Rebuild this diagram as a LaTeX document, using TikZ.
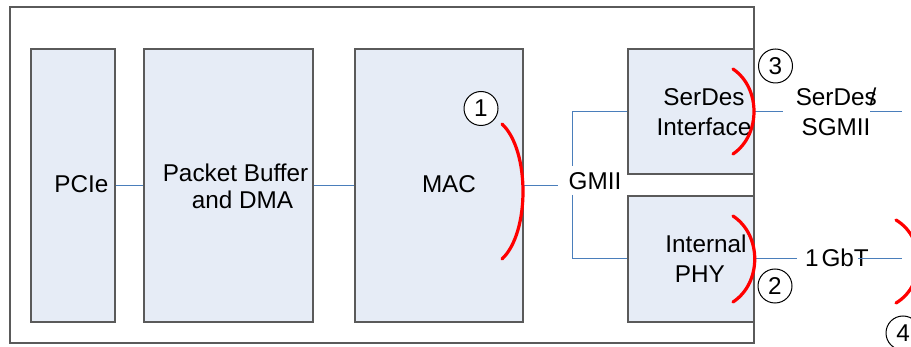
\documentclass[tikz,border=0pt]{standalone}
\usepackage{fontspec}
\setmainfont{Liberation Sans}
\definecolor{boxfill}{HTML}{E6ECF6}
\definecolor{boxline}{HTML}{5A5A5A}
\definecolor{wirecol}{HTML}{4A7EBB}
\begin{document}
\begin{tikzpicture}[x=0.5pt,y=-0.5pt,
  blk/.style={draw=boxline, fill=boxfill, line width=0.6pt, inner sep=0pt},
  chipbox/.style={draw=boxline, fill=white, line width=0.6pt, inner sep=0pt},
  lbl/.style={font=\fontsize{12.15pt}{15pt}\selectfont, inner sep=0pt},
  wire/.style={draw=wirecol, line width=0.5pt},
  hl/.style={draw=red, line width=1.6pt, line cap=round},
  num/.style={circle, draw=black, fill=white, line width=0.5pt, minimum size=17pt, inner sep=0pt, font=\fontsize{12.15pt}{14pt}\selectfont}]
\useasboundingbox (0,0) rectangle (911,347);
\clip (0,0) rectangle (911,347);
\fill[white] (0,0) rectangle (911,347);

% chip outline
\node[chipbox, minimum width=372pt, minimum height=168pt] (chip) at (382,175) {};

% blocks
\node[blk, minimum width=42pt, minimum height=136.5pt] (pcie) at (73,185.5) {};
\node[blk, minimum width=84.5pt, minimum height=136.5pt] (pb) at (228.5,185.5) {};
\node[blk, minimum width=84pt, minimum height=136.5pt] (mac) at (439,185.5) {};
\node[blk, minimum width=63pt, minimum height=62.5pt] (serdes) at (691,111.5) {};
\node[blk, minimum width=63pt, minimum height=63pt] (phy) at (691,259) {};

% labels
\node[lbl] (pcielbl) at (81.5,184) {PCIe};
\node[lbl, align=left] (pblbl) at (235.5,186) {Packet Buffer\\[-1.5pt]\hspace*{14.5pt}and DMA};
\node[lbl] (maclbl) at (449,184) {MAC};
\node[lbl] (gmii) at (595,181) {GMII};
\node[lbl, align=center] (serdeslbl) at (704,112) {SerDes\\Interface};
\node[lbl, align=left] (phylbl) at (706,258.5) {Internal\\\hspace*{4.7pt}PHY};
\node[lbl, align=center] (sgmii) at (836,112) {SerDes\kern-0.3em/\\SGMII};
\node[lbl] (gbt) at (837,258) {1\kern0.12em GbT};

% connectors
\coordinate (gt) at (572,166);
\coordinate (gb) at (572,195);
\coordinate (s1) at (783,111.5);
\coordinate (s2) at (870,111.5);
\coordinate (s3) at (902,111.5);
\coordinate (p1) at (797,259);
\coordinate (p2) at (858,259);
\coordinate (p3) at (902,259);
\draw[wire] (pcie.east) -- (pb.west);
\draw[wire] (pb.east) -- (mac.west);
\draw[wire] (mac.east) -- (mac.east -| 558,0);
\draw[wire] (gt) |- (serdes.west);
\draw[wire] (gb) |- (phy.west);
\draw[wire] (serdes.east) -- (s1);
\draw[wire] (s2) -- (s3);
\draw[wire] (phy.east) -- (p1);
\draw[wire] (p2) -- (p3);

% red markers
\draw[hl] (502,124) .. controls (530,150) and (530,233) .. (502,259);
\draw[hl] (733,69) .. controls (761,88) and (761,135) .. (733,154);
\draw[hl] (733,216) .. controls (762,235) and (762,283) .. (733,302);
\draw[hl] (896,220) .. controls (926,238) and (926,285) .. (896,303);

% numbered circles
\node[num] (c1) at (481,108.5) {1};
\node[num] (c3) at (775.5,66) {3};
\node[num] (c2) at (775,286) {2};
\node[num] (c4) at (903,333) {4};
\end{tikzpicture}
\end{document}
